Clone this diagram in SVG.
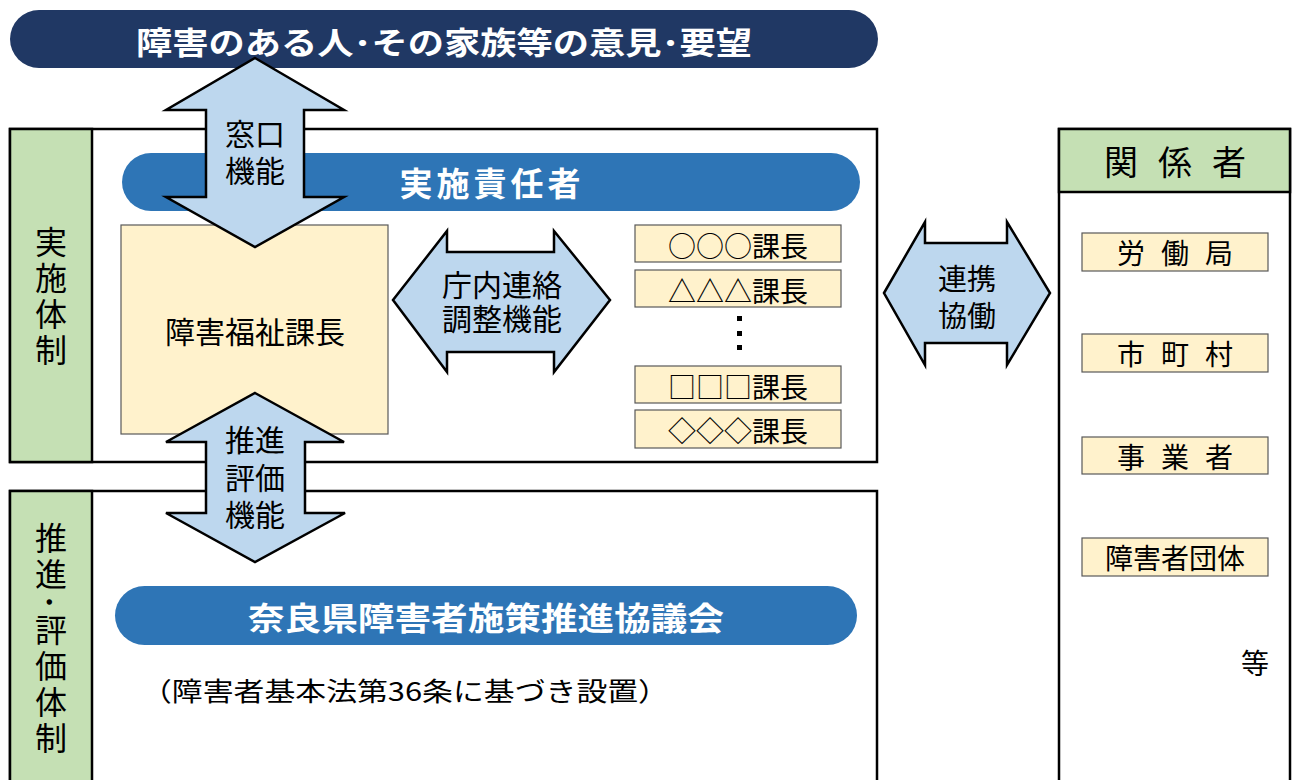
<svg xmlns="http://www.w3.org/2000/svg" width="1292" height="780" viewBox="0 0 1292 780">
<style>
text{font-family:"Noto Sans CJK JP","Noto Sans",sans-serif;dominant-baseline:central;text-anchor:middle;fill:#000}
.w{fill:#fff;font-weight:bold}
.v{writing-mode:vertical-rl;text-anchor:start;dominant-baseline:central;font-size:32px}
.frame{fill:#fff;stroke:#000;stroke-width:2.5}
.green{fill:#C5E0B4;stroke:#000;stroke-width:2.5}
.yel{fill:#FFF2CC;stroke:#595959;stroke-width:1.2}
.arrow{fill:#BDD7EE;stroke:#000;stroke-width:2.5;stroke-linejoin:miter}
.t28{font-size:28px}
.t30{font-size:30px}
.ml{font-family:"Liberation Sans","Noto Sans CJK JP",sans-serif}
.sp{font-size:28px;letter-spacing:16px}
</style>
<rect width="1292" height="780" fill="#fff"/>
<g id="banner">
<rect x="10" y="10" width="868" height="58" rx="29" fill="#203864"/>
<text class="w" x="444" y="40" font-size="31" textLength="616" lengthAdjust="spacingAndGlyphs">障害のある人･その家族等の意見･要望</text>
</g>
<g id="jisshi-frame">
<rect class="frame" x="10" y="129" width="867" height="333"/>
<rect class="green" x="10" y="129" width="82" height="333"/>
<text class="v" x="51" y="226" letter-spacing="4">実施体制</text>
</g>
<g id="jisshi-sekininsha">
<rect x="122" y="153" width="738" height="58" rx="29" fill="#2E75B6"/>
<text class="w" x="492" y="182" font-size="33" letter-spacing="4">実施責任者</text>
</g>
<g id="shogai-fukushi">
<rect class="yel" x="121" y="225" width="267" height="209"/>
<text class="t30" x="255" y="330">障害福祉課長</text>
</g>
<g id="kacho-list">
<rect class="yel" x="635" y="225" width="206" height="37"/>
<text class="t28" x="738" y="245">○○○課長</text>
<rect class="yel" x="635" y="270" width="206" height="37"/>
<text class="t28" x="738" y="290">△△△課長</text>
<rect x="737" y="316" width="5" height="5"/>
<rect x="737" y="331" width="5" height="5"/>
<rect x="737" y="345" width="5" height="5"/>
<rect class="yel" x="635" y="366" width="206" height="37"/>
<text class="t28" x="738" y="386">□□□課長</text>
<rect class="yel" x="635" y="410" width="206" height="38"/>
<text class="t28" x="738" y="430">◇◇◇課長</text>
</g>
<g id="suishin-frame">
<rect class="frame" x="10" y="491" width="867" height="300"/>
<rect class="green" x="10" y="491" width="82" height="300"/>
<text class="v" x="51" y="522" letter-spacing="4">推進･評価体制</text>
</g>
<g id="kyogikai">
<rect x="115" y="586" width="742" height="59" rx="29.5" fill="#2E75B6"/>
<text class="w" x="486" y="616" font-size="32" textLength="476" lengthAdjust="spacingAndGlyphs">奈良県障害者施策推進協議会</text>
<text x="405" y="689" font-size="26" textLength="528" lengthAdjust="spacingAndGlyphs">（障害者基本法第36条に基づき設置）</text>
</g>
<g id="kankeisha">
<rect class="frame" x="1059" y="129" width="231" height="662"/>
<rect class="green" x="1059" y="129" width="231" height="63"/>
<text x="1185" y="160" font-size="34" letter-spacing="20">関係者</text>
<rect class="yel" x="1082" y="233" width="186" height="38"/>
<text class="sp" x="1183" y="252">労働局</text>
<rect class="yel" x="1082" y="334" width="186" height="38"/>
<text class="sp" x="1183" y="353">市町村</text>
<rect class="yel" x="1082" y="437" width="186" height="37"/>
<text class="sp" x="1183" y="456">事業者</text>
<rect class="yel" x="1082" y="538" width="186" height="38"/>
<text class="t28" x="1175" y="557">障害者団体</text>
<text class="t28" x="1255" y="662">等</text>
</g>
<g id="connectors">
<path class="arrow" d="M255,58 L344,110 L304,110 L304,197 L344,197 L255,247 L166,197 L206,197 L206,110 L166,110 Z"/>
<text class="t30 ml" x="255" y="134">窓口<tspan x="255" dy="37">機能</tspan></text>
<path class="arrow" d="M255,393 L344,442 L305,442 L305,513 L345,513 L255,562 L166,513 L206,513 L206,442 L166,442 Z"/>
<text class="t30 ml" x="255" y="440">推進<tspan x="255" dy="38">評価</tspan><tspan x="255" dy="37">機能</tspan></text>
<path class="arrow" d="M393,300 L447,231 L447,252 L554,252 L554,231 L610,300 L554,372 L554,352 L447,352 L447,372 Z"/>
<text class="t30 ml" x="502" y="285">庁内連絡<tspan x="502" dy="34">調整機能</tspan></text>
<path class="arrow" d="M884,293 L925,222 L925,243 L1007,243 L1007,222 L1050,293 L1007,365 L1007,343 L925,343 L925,365 Z"/>
<text class="ml" x="967" y="280" font-size="29">連携<tspan x="967" dy="37">協働</tspan></text>
</g>
</svg>
